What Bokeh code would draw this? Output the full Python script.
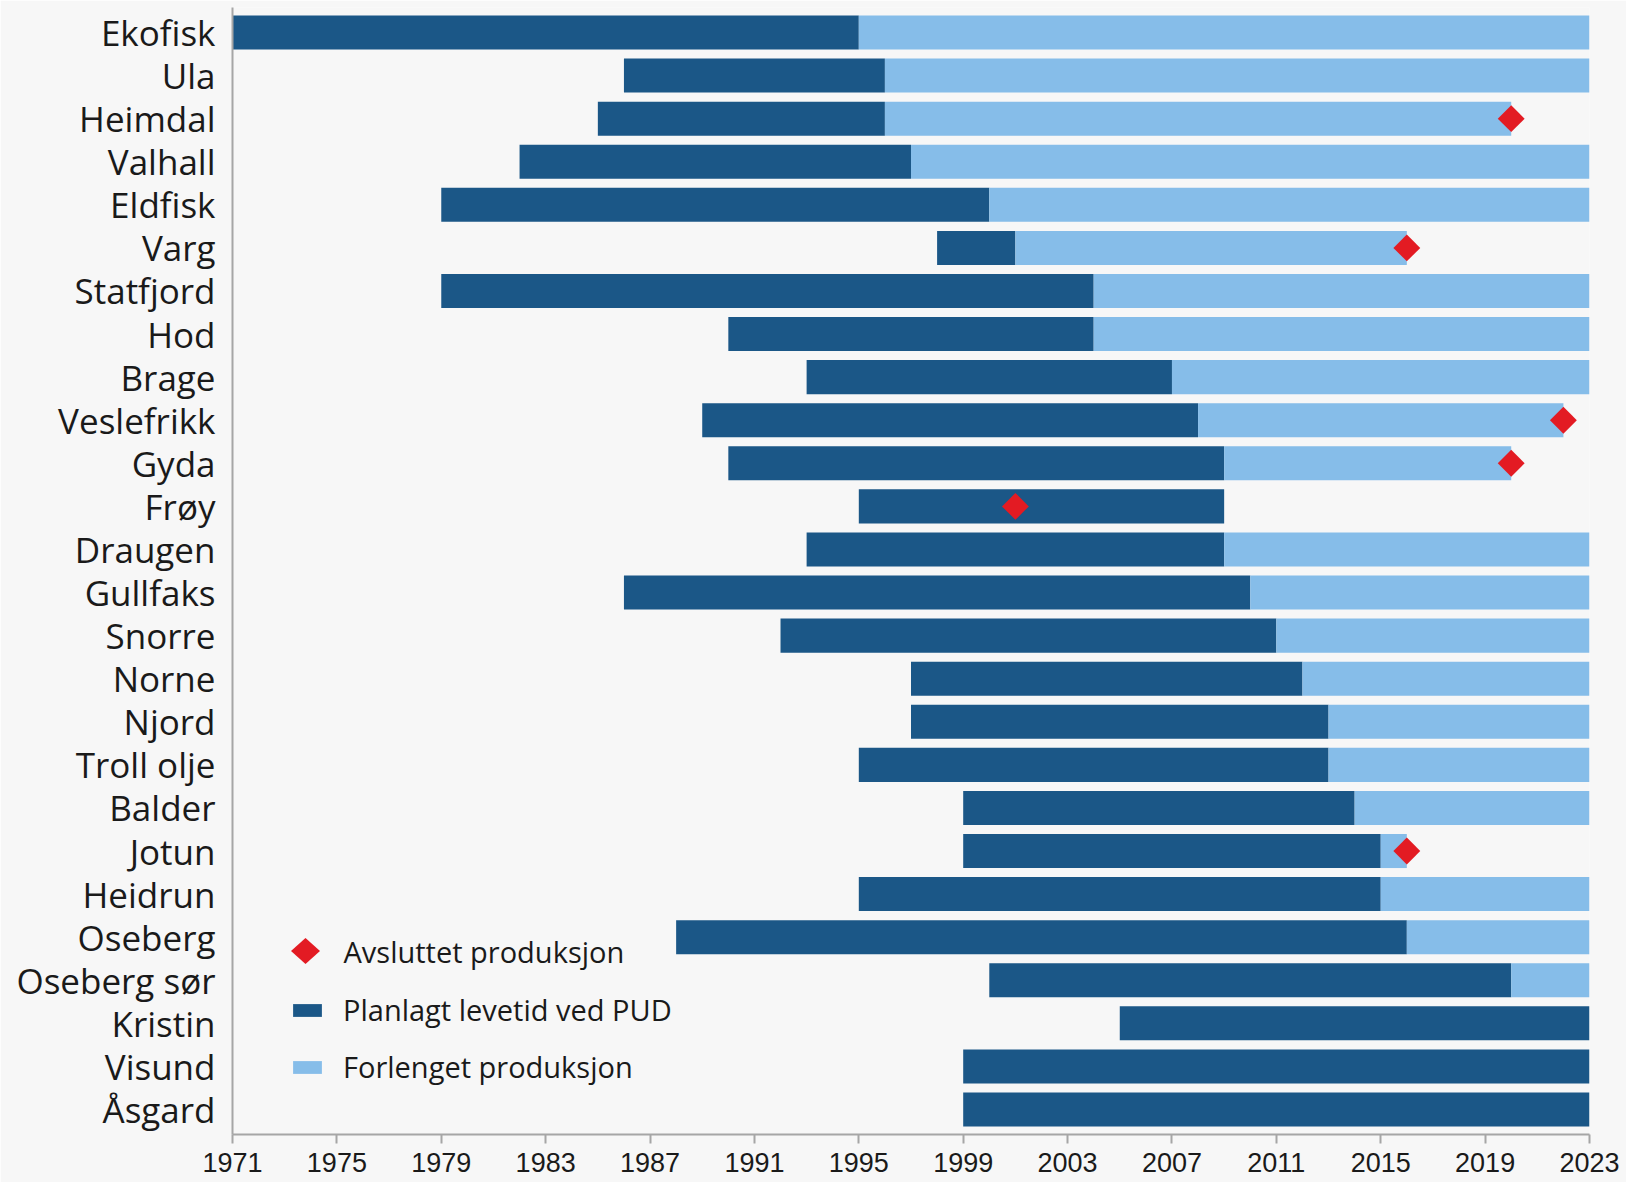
import math
from bokeh.plotting import figure
from bokeh.models import (ColumnDataSource, FactorRange, Range1d, FixedTicker, Legend, LegendItem,
                          PolyAnnotation, Label)
from bokeh.embed import file_html
from bokeh.resources import INLINE

fields = ["Ekofisk", "Ula", "Heimdal", "Valhall", "Eldfisk", "Varg", "Statfjord", "Hod",
          "Brage", "Veslefrikk", "Gyda", "Frøy", "Draugen", "Gullfaks", "Snorre", "Norne",
          "Njord", "Troll olje", "Balder", "Jotun", "Heidrun", "Oseberg", "Oseberg sør",
          "Kristin", "Visund", "Åsgard"]
pud_start = [1971, 1986, 1985, 1982, 1979, 1998, 1979, 1990, 1993, 1989, 1990, 1995, 1993,
             1986, 1992, 1997, 1997, 1995, 1999, 1999, 1995, 1988, 2000, 2005, 1999, 1999]
pud_end = [1995, 1996, 1996, 1997, 2000, 2001, 2004, 2004, 2007, 2008, 2009, 2009, 2009,
           2010, 2011, 2012, 2013, 2013, 2014, 2015, 2015, 2016, 2020, 2023, 2023, 2023]
ext_end = [2023, 2023, 2020, 2023, 2023, 2016, 2023, 2023, 2023, 2022, 2020, None, 2023,
           2023, 2023, 2023, 2023, 2023, 2023, 2016, 2023, 2023, 2023, None, None, None]
stop_fields = ["Heimdal", "Varg", "Veslefrikk", "Gyda", "Frøy", "Jotun"]
stop_years = [2020, 2016, 2022, 2020, 2001, 2016]
x_ticks = list(range(1971, 2024, 4))

DARK = "#1b5787"
LIGHT = "#86bde9"
RED = "#e31b23"
BG = "#f7f7f7"
TXT = "#1a1a1a"
AX = "#a6a6a6"
FONT = "Open Sans"

p = figure(width=1626, height=1182,
           y_range=FactorRange(factors=list(reversed(fields)), range_padding=0.08,
                               range_padding_units="absolute"),
           x_range=Range1d(1971, 2023),
           output_backend="svg", toolbar_location=None,
           min_border_left=232, min_border_right=37, min_border_top=7, min_border_bottom=48,
           background_fill_color=BG, border_fill_color=BG, outline_line_color=None)

src_pud = ColumnDataSource(dict(field=fields, left=pud_start, right=pud_end))
ef = [f for f, e in zip(fields, ext_end) if e is not None]
el = [s for s, e in zip(pud_end, ext_end) if e is not None]
er = [e for e in ext_end if e is not None]
src_ext = ColumnDataSource(dict(field=ef, left=el, right=er))
src_stop = ColumnDataSource(dict(field=stop_fields, year=stop_years))

r_pud = p.hbar(y="field", left="left", right="right", height=0.79, source=src_pud,
               fill_color=DARK, line_color=None)
r_ext = p.hbar(y="field", left="left", right="right", height=0.79, source=src_ext,
               fill_color=LIGHT, line_color=None)
r_stop = p.scatter(x="year", y="field", source=src_stop, marker="square", angle=math.pi / 4,
                   size=19, fill_color=RED, line_color=None)

p.xgrid.visible = False
p.ygrid.visible = False

xa = p.xaxis[0]
xa.ticker = FixedTicker(ticks=x_ticks)
xa.major_tick_out = 9
xa.major_tick_in = 0
xa.minor_tick_line_color = None
xa.axis_line_color = AX
xa.axis_line_width = 2
xa.major_tick_line_color = AX
xa.major_tick_line_width = 2
xa.major_label_text_font = "Liberation Sans"
xa.major_label_text_font_size = "27px"
xa.major_label_text_color = TXT
xa.major_label_standoff = 9

ya = p.yaxis[0]
ya.major_tick_out = 0
ya.major_tick_in = 0
ya.minor_tick_line_color = None
ya.axis_line_color = AX
ya.axis_line_width = 2
ya.major_label_text_font = FONT
ya.major_label_text_font_size = "35px"
ya.major_label_text_color = TXT
ya.major_label_standoff = 17

# legend entry for the red diamond (marker legend glyphs cannot be rotated)
dx, dy, hw, hh = 73, 183.5, 14.5, 13
p.add_layout(PolyAnnotation(xs=[dx - hw, dx, dx + hw, dx], ys=[dy, dy + hh, dy, dy - hh],
                            xs_units="screen", ys_units="screen",
                            fill_color=RED, fill_alpha=1, line_color=None))
p.add_layout(Label(x=111, y=dy, x_units="screen", y_units="screen",
                   text="Avsluttet produksjon", text_font=FONT, text_font_size="29px",
                   text_color=TXT, text_baseline="middle", text_align="left"))

leg = Legend(items=[LegendItem(label="Planlagt levetid ved PUD", renderers=[r_pud]),
                    LegendItem(label="Forlenget produksjon", renderers=[r_ext])],
             location=(57, 48), glyph_width=36, glyph_height=16, label_height=16,
             spacing=18, label_standoff=18,
             label_text_font=FONT, label_text_font_size="29px", label_text_color=TXT,
             background_fill_alpha=0, border_line_color=None, padding=0, margin=0)
p.add_layout(leg)

open("out.html", "w").write(file_html(p, INLINE))
